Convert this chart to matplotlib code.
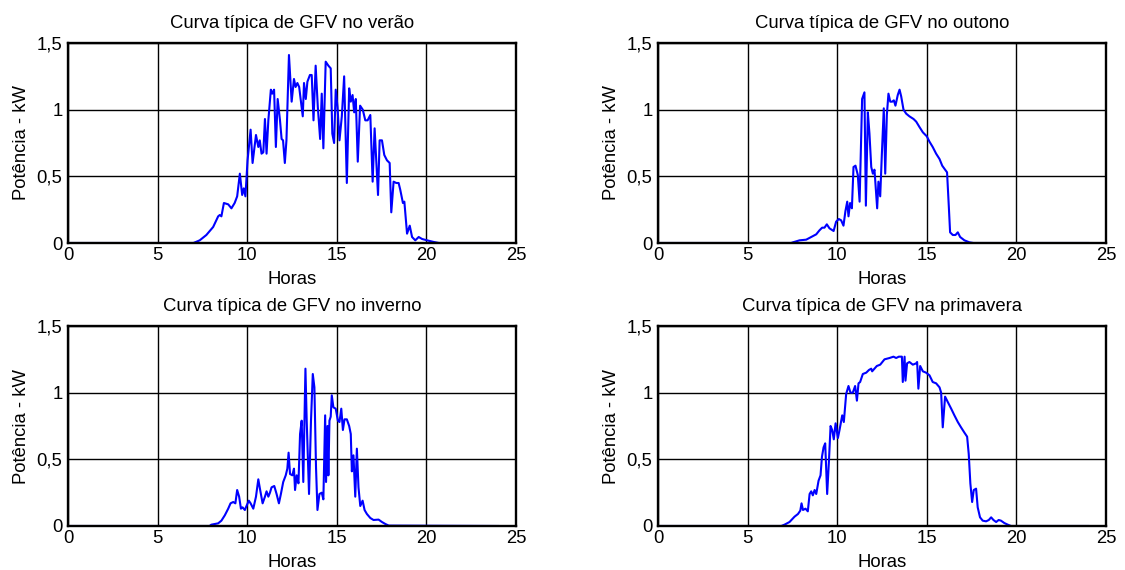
import matplotlib
matplotlib.use("Agg")
import matplotlib.pyplot as plt
from matplotlib.ticker import FuncFormatter

plt.rcParams['font.family'] = ['Liberation Sans', 'DejaVu Sans']

# ---- data (hours, kW) ----
verao_h = [0, 7.0, 7.35, 7.72, 8.1, 8.38, 8.47, 8.56, 8.7, 8.94, 9.12, 9.3, 9.44, 9.59, 9.72, 9.81, 9.9,
           10.02, 10.19, 10.3, 10.49, 10.62, 10.7, 10.8, 10.9, 10.99, 11.08, 11.18, 11.32, 11.4, 11.5,
           11.6, 11.7, 11.83, 11.92, 12.0, 12.1, 12.19, 12.33, 12.48, 12.61, 12.7, 12.8, 12.9, 13.1,
           13.17, 13.27, 13.36, 13.5, 13.6, 13.7, 13.82, 13.94, 14.07, 14.16, 14.25, 14.38, 14.53,
           14.66, 14.75, 14.85, 14.94, 15.04, 15.15, 15.28, 15.41, 15.56, 15.69, 15.78, 15.88, 15.97,
           16.06, 16.17, 16.3, 16.45, 16.59, 16.72, 16.87, 17.0, 17.11, 17.3, 17.39, 17.52, 17.65,
           17.8, 17.95, 18.04, 18.17, 18.32, 18.45, 18.54, 18.69, 18.77, 18.92, 19.07, 19.2, 19.38,
           19.57, 19.76, 20.04, 20.4, 20.7, 24]
verao_p = [0, 0, 0.02, 0.06, 0.12, 0.2, 0.21, 0.2, 0.3, 0.29, 0.26, 0.3, 0.35, 0.52, 0.36, 0.41, 0.35,
           0.62, 0.85, 0.6, 0.81, 0.72, 0.77, 0.67, 0.68, 0.93, 0.67, 0.92, 1.15, 1.12, 1.15,
           0.72, 1.08, 0.92, 0.78, 0.77, 0.6, 0.77, 1.41, 1.06, 1.23, 1.17, 1.2, 1.17, 0.95,
           1.2, 1.08, 1.21, 1.26, 1.26, 0.92, 1.33, 1.02, 0.78, 1.12, 0.71, 1.36, 1.33,
           1.31, 0.82, 0.75, 1.15, 1.02, 0.77, 0.95, 1.25, 0.45, 1.16, 1.06, 1.11, 0.98,
           1.08, 0.61, 1.03, 1.0, 0.92, 0.92, 0.96, 0.46, 0.86, 0.36, 0.77, 0.77, 0.66,
           0.62, 0.6, 0.23, 0.46, 0.45, 0.45, 0.4, 0.3, 0.31, 0.07, 0.13, 0.045, 0.02,
           0.045, 0.03, 0.02, 0.008, 0, 0]

outono_h = [0, 7.43, 7.53, 7.9, 8.27, 8.55, 8.83, 9.01, 9.16, 9.29, 9.42, 9.57, 9.8, 9.94, 10.09,
            10.22, 10.35, 10.46, 10.56, 10.63, 10.72, 10.82, 10.91, 11.02, 11.15, 11.25, 11.39, 11.52,
            11.6, 11.71, 11.8, 11.9, 11.99, 12.08, 12.23, 12.3, 12.4, 12.49, 12.6, 12.68, 12.77, 12.86,
            12.96, 13.07, 13.16, 13.25, 13.38, 13.48, 13.57, 13.7, 13.85, 14.03, 14.26, 14.41, 14.59,
            14.78, 15.0, 15.15, 15.33, 15.52, 15.71, 15.86, 16.02, 16.13, 16.23, 16.3, 16.45, 16.6,
            16.73, 16.86, 17.1, 17.38, 17.6, 24]
outono_p = [0, 0, 0.005, 0.02, 0.025, 0.045, 0.065, 0.095, 0.115, 0.115, 0.14, 0.11, 0.09, 0.16, 0.18,
            0.17, 0.13, 0.24, 0.31, 0.2, 0.3, 0.26, 0.57, 0.58, 0.51, 0.31, 1.08, 1.13,
            0.28, 0.98, 0.82, 0.57, 0.52, 0.55, 0.26, 0.46, 0.35, 0.66, 1.01, 0.52, 0.96, 1.12,
            1.06, 1.06, 1.07, 1.03, 1.11, 1.15, 1.1, 1.0, 0.97, 0.95, 0.93, 0.91, 0.87,
            0.83, 0.8, 0.76, 0.72, 0.67, 0.63, 0.58, 0.55, 0.53, 0.27, 0.08, 0.06, 0.06,
            0.08, 0.045, 0.02, 0.005, 0, 0]

inverno_h = [0, 7.9, 8.0, 8.38, 8.56, 8.75, 8.94, 9.07, 9.22, 9.34, 9.44, 9.55, 9.65, 9.74, 9.87, 9.96,
             10.09, 10.19, 10.34, 10.49, 10.62, 10.71, 10.86, 10.99, 11.08, 11.18, 11.27, 11.36, 11.51,
             11.64, 11.77, 11.88, 12.01, 12.15, 12.24, 12.31, 12.39, 12.52, 12.61, 12.67, 12.76, 12.86,
             12.95, 13.04, 13.13, 13.25, 13.32, 13.45, 13.56, 13.66, 13.75, 13.84, 13.92, 14.03, 14.16,
             14.25, 14.35, 14.4, 14.48, 14.53, 14.59, 14.66, 14.72, 14.81, 14.94, 15.06, 15.15, 15.25,
             15.34, 15.43, 15.56, 15.69, 15.78, 15.84, 15.93, 16.03, 16.12, 16.21, 16.31, 16.44, 16.55,
             16.68, 16.87, 17.05, 17.33, 17.52, 17.71, 17.9, 24]
inverno_p = [0, 0, 0.01, 0.02, 0.04, 0.08, 0.13, 0.17, 0.18, 0.17, 0.27, 0.22, 0.13, 0.14, 0.12, 0.15,
             0.19, 0.17, 0.13, 0.22, 0.35, 0.28, 0.17, 0.22, 0.26, 0.22, 0.25, 0.29, 0.3,
             0.24, 0.17, 0.24, 0.33, 0.38, 0.43, 0.55, 0.39, 0.38, 0.43, 0.27, 0.38, 0.32,
             0.69, 0.79, 0.33, 1.18, 0.79, 0.24, 0.79, 1.14, 1.04, 0.44, 0.12, 0.24, 0.25,
             0.2, 0.83, 0.33, 0.75, 0.38, 0.79, 0.82, 0.98, 0.89, 0.88, 0.79, 0.78, 0.88,
             0.72, 0.8, 0.8, 0.75, 0.69, 0.41, 0.53, 0.22, 0.58, 0.29, 0.15, 0.19, 0.12,
             0.09, 0.06, 0.045, 0.048, 0.03, 0.015, 0.003, 0]

primavera_h = [0, 6.88, 7.06, 7.34, 7.62, 7.81, 7.94, 8.01, 8.09, 8.23, 8.36, 8.46, 8.55, 8.64, 8.74,
               8.83, 8.96, 9.07, 9.15, 9.24, 9.33, 9.44, 9.54, 9.63, 9.72, 9.81, 9.91, 10.04, 10.13,
               10.28, 10.37, 10.5, 10.63, 10.74, 10.87, 11.0, 11.1, 11.19, 11.28, 11.43, 11.62, 11.77,
               11.9, 11.95, 12.08, 12.21, 12.4, 12.64, 12.92, 13.14, 13.29, 13.44, 13.61, 13.66, 13.76,
               13.81, 13.9, 14.03, 14.22, 14.41, 14.46, 14.53, 14.63, 14.78, 14.96, 15.15, 15.33, 15.52,
               15.71, 15.8, 15.89, 16.02, 16.17, 16.36, 16.54, 16.73, 16.91, 17.1, 17.25, 17.34, 17.43,
               17.53, 17.62, 17.75, 17.84, 17.97, 18.12, 18.31, 18.46, 18.59, 18.72, 18.87, 19.01,
               19.14, 19.33, 19.52, 19.7, 24]
primavera_p = [0, 0, 0.01, 0.03, 0.07, 0.09, 0.115, 0.17, 0.12, 0.13, 0.11, 0.24, 0.26, 0.23, 0.27,
               0.24, 0.34, 0.38, 0.52, 0.59, 0.62, 0.24, 0.49, 0.75, 0.72, 0.65, 0.77, 0.66, 0.72,
               0.83, 0.78, 0.99, 1.05, 1.0, 1.0, 1.05, 0.94, 1.07, 1.08, 1.14, 1.15, 1.17,
               1.18, 1.16, 1.18, 1.2, 1.21, 1.25, 1.26, 1.27, 1.26, 1.27, 1.27, 1.08, 1.27,
               1.09, 1.22, 1.23, 1.21, 1.22, 1.23, 1.03, 1.2, 1.16, 1.15, 1.13, 1.08, 1.07,
               1.04, 1.0, 0.74, 0.97, 0.93, 0.88, 0.83, 0.78, 0.74, 0.7, 0.67, 0.54, 0.32,
               0.18, 0.27, 0.28, 0.14, 0.065, 0.04, 0.035, 0.045, 0.065, 0.045, 0.03, 0.045,
               0.04, 0.022, 0.01, 0, 0]

titles = ["Curva típica de GFV no verão", "Curva típica de GFV no outono",
          "Curva típica de GFV no inverno", "Curva típica de GFV na primavera"]
series = [(verao_h, verao_p), (outono_h, outono_p), (inverno_h, inverno_p), (primavera_h, primavera_p)]
xticks = [0, 5, 10, 15, 20, 25]
yticks = [0, 0.5, 1, 1.5]

fig = plt.figure(figsize=(11.25, 5.7), dpi=100)
W, H = 1125, 570
boxes = [(68, 43, 516, 243), (658, 43, 1106, 243), (68, 326, 516, 526), (658, 326, 1106, 526)]

fmt = FuncFormatter(lambda v, p: ("%g" % v).replace(".", ","))
FS = 13.3

for (x0, y0, x1, y1), (hh, pp), t in zip(boxes, series, titles):
    ax = fig.add_axes([x0 / W, 1 - y1 / H, (x1 - x0) / W, (y1 - y0) / H])
    ax.plot(hh, pp, color=(0, 0, 1), lw=1.5)
    ax.set_xlim(0, 25)
    ax.set_ylim(0, 1.5)
    ax.set_xticks(xticks)
    ax.set_yticks(yticks)
    ax.yaxis.set_major_formatter(fmt)
    ax.grid(True, color='black', lw=1.0)
    ax.tick_params(direction='in', length=0, labelsize=FS)
    ax.tick_params(axis='x', pad=3)
    ax.tick_params(axis='y', pad=4)
    for s in ax.spines.values():
        s.set_linewidth(1.7)
    ax.set_title(t, fontsize=FS, pad=11)
    ax.set_xlabel("Horas", fontsize=FS, labelpad=5)
    ax.set_ylabel("Potência - kW", fontsize=FS, labelpad=5)

fig.savefig("out.png", dpi=100)
